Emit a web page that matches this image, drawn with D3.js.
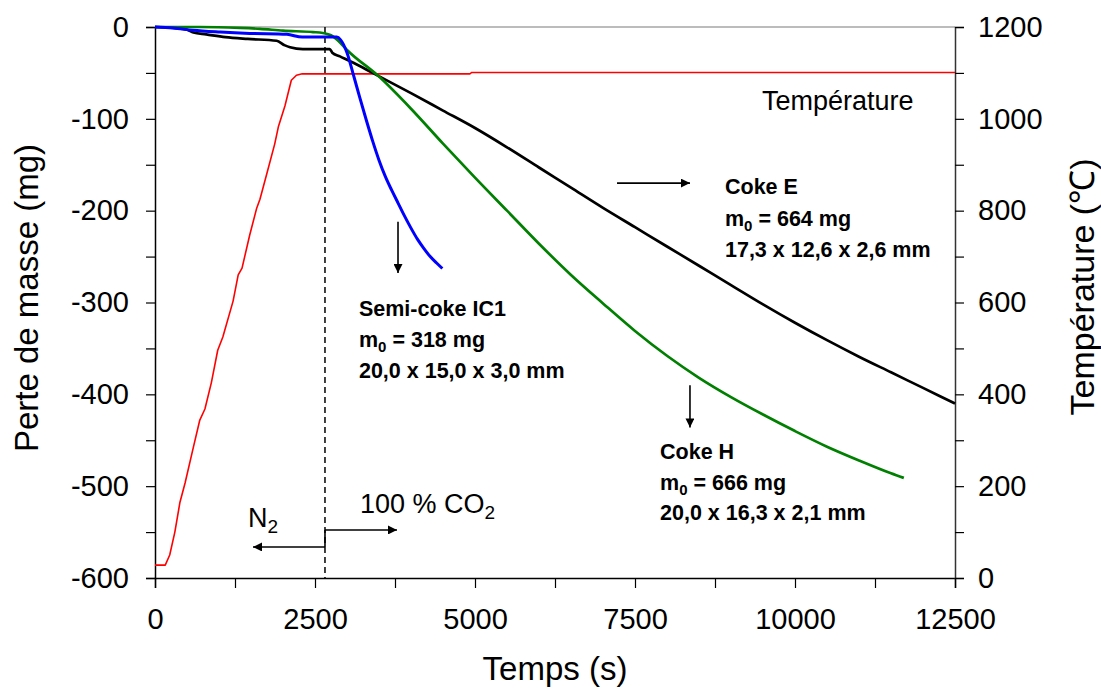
<!DOCTYPE html>
<html><head><meta charset="utf-8">
<script src="https://cdn.jsdelivr.net/npm/d3@7"></script>
<style>html,body{margin:0;padding:0;background:#fff;}svg{display:block;font-family:Arial,"Liberation Sans",sans-serif;}</style>
</head><body>
<svg id="c" width="1101" height="690"></svg>
<script>
// ---- Data ----
const timeTicks = [0, 2500, 5000, 7500, 10000, 12500];
const massTicks = [0, -100, -200, -300, -400, -500, -600];
const tempTicks = [0, 200, 400, 600, 800, 1000, 1200];

// Coke E (black)
const cokeE_t = [0,300,500,600,800,1100,1450,1900,2030,2110,2310,2730,2770,2890,3100,3400,4000,4500,5000,5500,6000,6500,7000,7500,8000,8500,9000,9500,10000,10500,11000,11500,12000,12500];
const cokeE_m = [0,-1,-3,-6,-8,-11,-13,-15,-20,-22,-24,-24,-28,-32,-39,-50,-72,-91,-110,-131,-153,-175,-197,-218,-239,-260,-281,-302,-322,-341,-359,-376,-393,-410];
// Coke H (green)
const cokeH_t = [0,700,1330,1640,2000,2470,2620,2750,2850,3000,3500,4000,4500,5000,5500,6000,6500,7000,7500,8000,8500,9000,9500,10000,10500,11000,11500,11700];
const cokeH_m = [0,0,-1,-2,-4,-5.5,-6.5,-9,-14,-25,-54,-89,-127,-164,-200,-236,-270,-301,-331,-358,-382,-403,-422,-440,-457,-472,-486,-491];
// Semi-coke IC1 (blue)
const semi_t = [0,280,590,1020,1480,2060,2300,2840,2900,3000,3100,3200,3300,3400,3500,3600,3700,3800,3900,4000,4100,4200,4300,4400,4490];
const semi_m = [0,-1,-3.5,-5.5,-7,-8,-11,-11,-14,-28,-52,-77,-101,-124,-145,-163,-178,-192,-206,-219,-231,-241,-250,-257,-263];
// Température (red, right axis)
const temp_t = [0,160,230,310,390,470,600,700,780,880,980,1060,1220,1300,1360,1480,1590,1640,1750,1870,1930,2030,2130,2210,2300,4920,4950,12500];
const temp_T = [28,28,50,100,165,207,285,344,368,425,496,525,603,660,675,747,806,825,882,945,984,1028,1084,1095,1098,1098,1101,1101];

const switchTime = 2656;

// ---- Layout ----
const svg = d3.select("#c");
const L = 155, R = 955, T = 27, B = 578;
const x = d3.scaleLinear().domain([0, 12500]).range([L, R]);
const y = d3.scaleLinear().domain([-600, 0]).range([B, T]);
const y2 = d3.scaleLinear().domain([0, 1200]).range([B, T]);

const defs = svg.append("defs");
defs.append("marker").attr("id","ah").attr("viewBox","0 0 10 10").attr("refX",10).attr("refY",5)
  .attr("markerWidth",11).attr("markerHeight",9).attr("markerUnits","userSpaceOnUse").attr("orient","auto")
  .append("path").attr("d","M0,0L10,5L0,10z").attr("fill","#000");

// top border
svg.append("line").attr("x1",L).attr("x2",R).attr("y1",T).attr("y2",T).attr("stroke","#a6a6a6").attr("stroke-width",1.5);

const tickFont = 29;
// left axis
const gl = svg.append("g").attr("transform",`translate(${L},0)`)
  .call(d3.axisLeft(y).tickValues(d3.range(-600, 1, 50)).tickSize(9).tickFormat(d => massTicks.includes(d) ? String(d) : ""));
// bottom axis
const gb = svg.append("g").attr("transform",`translate(0,${B})`)
  .call(d3.axisBottom(x).tickValues(d3.range(0, 12501, 1250)).tickSize(10).tickFormat(d => timeTicks.includes(d) ? String(d) : ""));
// right axis
const gr = svg.append("g").attr("transform",`translate(${R},0)`)
  .call(d3.axisRight(y2).tickValues(d3.range(0, 1201, 100)).tickSize(9).tickFormat(d => tempTicks.includes(d) ? String(d) : ""));
[gl, gb, gr].forEach(g => {
  g.select(".domain").attr("stroke","#000").attr("stroke-width",1.5);
  g.selectAll(".tick line").attr("stroke","#000").attr("stroke-width",1.2);
  g.selectAll(".tick text").attr("font-size",tickFont).attr("font-family","Arial, 'Liberation Sans', sans-serif").attr("fill","#000");
});
gr.select(".domain").attr("stroke","#333");
gl.selectAll(".tick text").attr("x",-26).text(d => massTicks.includes(d) ? String(d) : "");
gr.selectAll(".tick text").attr("x",23);
gb.selectAll(".tick text").attr("y",30);

// axis titles
svg.append("text").attr("x",555).attr("y",680).attr("text-anchor","middle").attr("font-size",33).text("Temps (s)");
svg.append("text").attr("transform","translate(38,298) rotate(-90)").attr("text-anchor","middle").attr("font-size",33).text("Perte de masse (mg)");
svg.append("text").attr("transform","translate(1094,287) rotate(-90)").attr("text-anchor","middle").attr("font-size",34).text("Température (℃)");

// dashed switch line
svg.append("line").attr("x1",x(switchTime)).attr("x2",x(switchTime)).attr("y1",T).attr("y2",B)
  .attr("stroke","#000").attr("stroke-width",1.5).attr("stroke-dasharray","6,4");

// series
function series(ts, vs, ys, color, w, curve) {
  const data = ts.map((t, i) => [t, vs[i]]);
  svg.append("path").datum(data)
    .attr("d", d3.line().curve(curve || d3.curveLinear).x(d => x(d[0])).y(d => ys(d[1])))
    .attr("fill","none").attr("stroke",color).attr("stroke-width",w).attr("stroke-linejoin","round");
}
series(temp_t, temp_T, y2, "#ff0000", 1.6);
series(cokeE_t, cokeE_m, y, "#000000", 2.7, d3.curveMonotoneX);
series(cokeH_t, cokeH_m, y, "#008000", 2.7, d3.curveMonotoneX);
series(semi_t, semi_m, y, "#0000ff", 3, d3.curveMonotoneX);

// arrows (data coordinates)
function arrow(t1, m1, t2, m2) {
  svg.append("line").attr("x1",x(t1)).attr("y1",y(m1)).attr("x2",x(t2)).attr("y2",y(m2))
    .attr("stroke","#000").attr("stroke-width",1.6).attr("marker-end","url(#ah)");
}
// gas switch bracket
svg.append("line").attr("x1",x(switchTime)).attr("x2",x(switchTime)).attr("y1",y(-547.7)).attr("y2",y(-566.2)).attr("stroke","#000").attr("stroke-width",1.6);
arrow(switchTime, -547.7, 3781, -547.7);
arrow(switchTime, -566.2, 1531, -566.2);
arrow(3797, -212, 3797, -268);
arrow(7219, -170, 8359, -170);
arrow(8359, -390, 8359, -436);

// gas labels
const n2 = svg.append("text").attr("x",x(1453)).attr("y",y(-544.5)).attr("font-size",27);
n2.append("tspan").text("N");
n2.append("tspan").attr("font-size",19).attr("dy",6).text("2");
const co2 = svg.append("text").attr("x",x(3203)).attr("y",y(-529)).attr("font-size",27);
co2.append("tspan").text("100 % CO");
co2.append("tspan").attr("font-size",19).attr("dy",6).text("2");

// Temperature label
svg.append("text").attr("x",x(9484)).attr("y",y(-90)).attr("font-size",27).text("Température");

// sample annotations
function annot(t, ms, name, m0, dims) {
  const g = svg.append("g").attr("font-weight","bold").attr("font-size",21.5);
  g.append("text").attr("x",x(t)).attr("y",y(ms[0])).text(name);
  const tm = g.append("text").attr("x",x(t)).attr("y",y(ms[1]));
  tm.append("tspan").text("m");
  tm.append("tspan").attr("font-size",15).attr("dy",5).text("0");
  tm.append("tspan").attr("dy",-5).text(" = " + m0);
  g.append("text").attr("x",x(t)).attr("y",y(ms[2])).text(dims);
}
annot(3187, [-315, -348, -382], "Semi-coke IC1", "318 mg", "20,0 x 15,0 x 3,0 mm");
annot(8906, [-182, -217, -250], "Coke E", "664 mg", "17,3 x 12,6 x 2,6 mm");
annot(7891, [-470, -504, -537], "Coke H", "666 mg", "20,0 x 16,3 x 2,1 mm");
</script>
</body></html>
